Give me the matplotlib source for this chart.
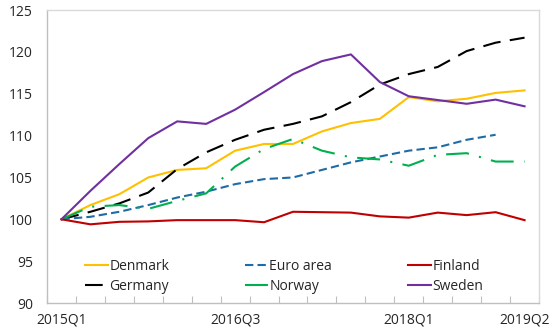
import matplotlib
matplotlib.use('Agg')
import matplotlib.pyplot as plt
from matplotlib.legend import Legend

plt.rcParams['font.family'] = ['Open Sans', 'DejaVu Sans']

# Quarterly index, 2015Q1 = 100
quarters = ['2015Q1', '2015Q2', '2015Q3', '2015Q4', '2016Q1', '2016Q2', '2016Q3',
            '2016Q4', '2017Q1', '2017Q2', '2017Q3', '2017Q4', '2018Q1', '2018Q2',
            '2018Q3', '2018Q4', '2019Q1']
tick_idx = [0, 6, 12, 16]
tick_text = ['2015Q1', '2016Q3', '2018Q1', '2019Q2']

denmark = [100, 101.7, 103.0, 105.0, 105.9, 106.1, 108.2, 109.0, 109.0, 110.5,
           111.5, 112.0, 114.6, 114.1, 114.4, 115.1, 115.4]
euro_area = [100, 100.3, 100.9, 101.7, 102.6, 103.3, 104.2, 104.8, 105.0, 105.9,
             106.8, 107.5, 108.2, 108.6, 109.5, 110.1]
finland = [100, 99.4, 99.7, 99.75, 99.9, 99.9, 99.9, 99.65, 100.9, 100.85,
           100.8, 100.35, 100.2, 100.8, 100.5, 100.85, 99.9]
germany = [100, 100.9, 101.9, 103.2, 106.0, 108.0, 109.5, 110.7, 111.4, 112.3,
           114.0, 116.1, 117.35, 118.2, 120.1, 121.1, 121.7]
norway = [100, 101.5, 101.7, 101.25, 102.2, 103.1, 106.3, 108.4, 109.6, 108.2,
          107.4, 107.15, 106.4, 107.7, 107.9, 106.9, 106.9]
sweden = [100, 103.4, 106.6, 109.7, 111.7, 111.4, 113.1, 115.2, 117.35, 118.9,
          119.7, 116.4, 114.7, 114.25, 113.8, 114.3, 113.5]

fig = plt.figure(figsize=(5.52, 3.35), dpi=100)
ax = fig.add_axes([0.0851, 0.0955, 0.8914, 0.8745])

lw = 1.5
l_dk, = ax.plot(range(len(denmark)), denmark, color='#FFC000', lw=lw, label='Denmark')
l_de, = ax.plot(range(len(germany)), germany, color='black', lw=lw,
                dashes=(8.5, 4.5), label='Germany')
l_ea, = ax.plot(range(len(euro_area)), euro_area, color='#1F6BA5', lw=lw,
                dashes=(4, 2), label='Euro area')
l_no, = ax.plot(range(len(norway)), norway, color='#00B050', lw=lw,
                dashes=(11, 5, 1, 5), label='Norway')
l_fi, = ax.plot(range(len(finland)), finland, color='#C00000', lw=lw, label='Finland')
l_se, = ax.plot(range(len(sweden)), sweden, color='#7030A0', lw=lw, label='Sweden')

ax.set_xlim(-0.5, len(quarters) - 0.5)
ax.set_ylim(90, 125)
ax.set_yticks(range(90, 126, 5))

# category boundaries carry the tick marks, labels sit on category centres
ax.set_xticks([i - 0.5 for i in range(len(quarters) + 1)])
ax.set_xticklabels([])
ax.set_xticks(tick_idx, minor=True)
ax.set_xticklabels(tick_text, minor=True)
ax.tick_params(axis='x', which='major', direction='in', length=5,
               width=0.8, color='#BFBFBF')
ax.tick_params(axis='x', which='minor', length=0, pad=7, labelsize=10,
               colors='#262626')
ax.tick_params(axis='y', length=0, pad=10, labelsize=10, colors='#262626')

for side in ['left', 'bottom']:
    ax.spines[side].set_color('#BFBFBF')
for side in ['top', 'right']:
    ax.spines[side].set_color('#D9D9D9')
for s in ax.spines.values():
    s.set_linewidth(1.0)

# one legend per column so the columns are evenly spaced
columns = [([l_dk, l_de], 0.154), ([l_ea, l_no], 0.4438), ([l_fi, l_se], 0.739)]
for handles, x0 in columns:
    leg = Legend(ax, handles, [h.get_label() for h in handles],
                 loc='center left', bbox_to_anchor=(x0, 0.1746),
                 bbox_transform=fig.transFigure, frameon=False, fontsize=10,
                 handlelength=1.65, handletextpad=0.1, labelspacing=0.4,
                 borderpad=0, borderaxespad=0)
    for t in leg.get_texts():
        t.set_color('#262626')
    ax.add_artist(leg)

fig.savefig('out.png', dpi=100)
